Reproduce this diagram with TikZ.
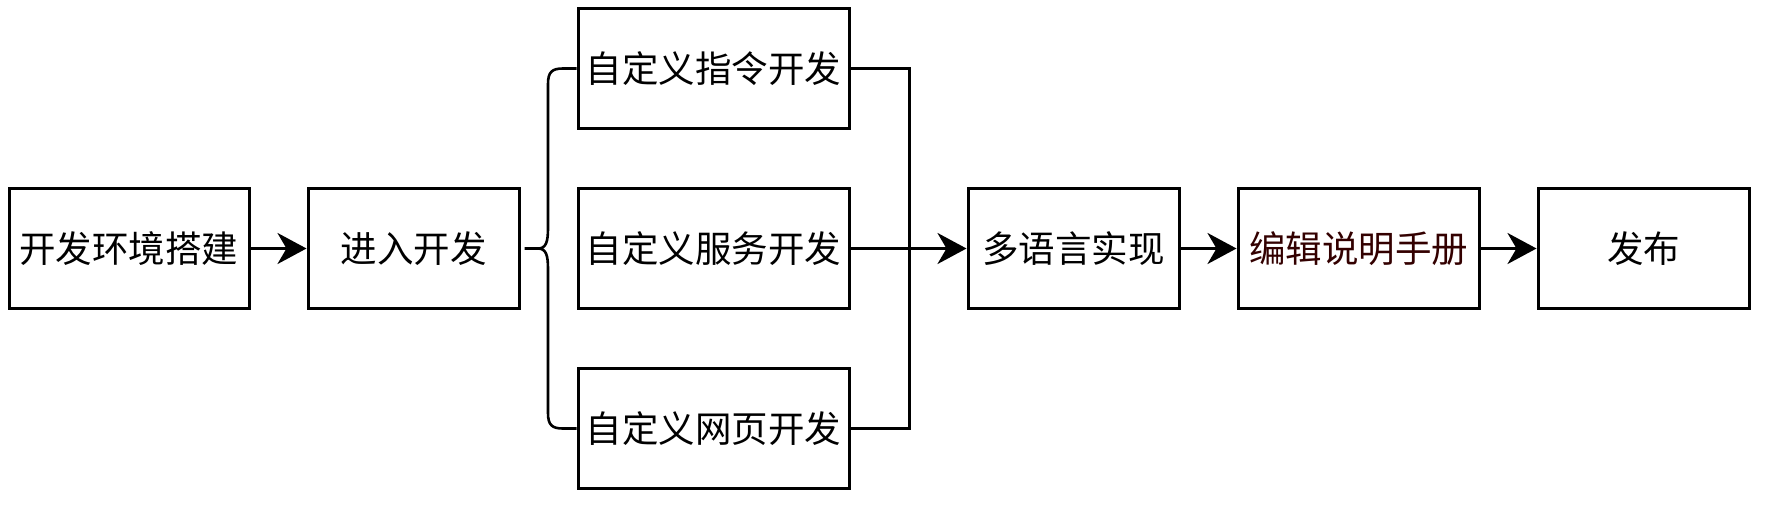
\documentclass[tikz,border=0pt]{standalone}
\usepackage{fontspec}
\setmainfont{Noto Sans CJK SC}
\usetikzlibrary{arrows.meta}
\definecolor{notered}{HTML}{330000}
\begin{document}
\begin{tikzpicture}[x=1pt,y=-1pt,
  stepbox/.style={draw=black,line width=3pt,minimum height=120pt,inner sep=0pt,
    font=\fontsize{36.5}{40}\selectfont},
  conn/.style={draw=black,line width=3pt},
  flow/.style={conn,-{Stealth[length=29pt,width=31pt,inset=9pt]}}]
\path[use as bounding box] (0,0) rectangle (1791,531);
\node[stepbox,minimum width=240pt] (n1) at (129,248.5) {开发环境搭建};
\node[stepbox,minimum width=211pt] (n2) at (413.5,248.5) {进入开发};
\node[stepbox,minimum width=271pt] (t1) at (713.5,68.5) {自定义指令开发};
\node[stepbox,minimum width=271pt] (t2) at (713.5,248.5) {自定义服务开发};
\node[stepbox,minimum width=271pt] (t3) at (713.5,428.5) {自定义网页开发};
\node[stepbox,minimum width=211pt] (n3) at (1073.5,248.5) {多语言实现};
\node[stepbox,minimum width=241pt,text=notered] (n4) at (1358.5,248.5) {编辑说明手册};
\node[stepbox,minimum width=211pt] (n5) at (1643.5,248.5) {发布};
\coordinate (j) at (909,248.5);
% brace
\draw[conn,line width=2.6pt] ([xshift=4pt]n2.east) -- (538,248.5)
  .. controls (546,248.5) and (548,242) .. (548,228) -- (548,84)
  .. controls (548,72) and (552,68.5) .. (563,68.5) -- (t1.west);
\draw[conn,line width=2.6pt] (538,248.5)
  .. controls (546,248.5) and (548,255) .. (548,269) -- (548,413)
  .. controls (548,425) and (552,428.5) .. (563,428.5) -- (t3.west);
% join
\draw[conn] (t1.east) -| (j);
\draw[conn] (t3.east) -| (j);
\draw[flow] (t2.east) -- (n3.west);
\draw[flow] (n1.east) -- (n2.west);
\draw[flow] (n3.east) -- (n4.west);
\draw[flow] (n4.east) -- (n5.west);
\end{tikzpicture}
\end{document}
